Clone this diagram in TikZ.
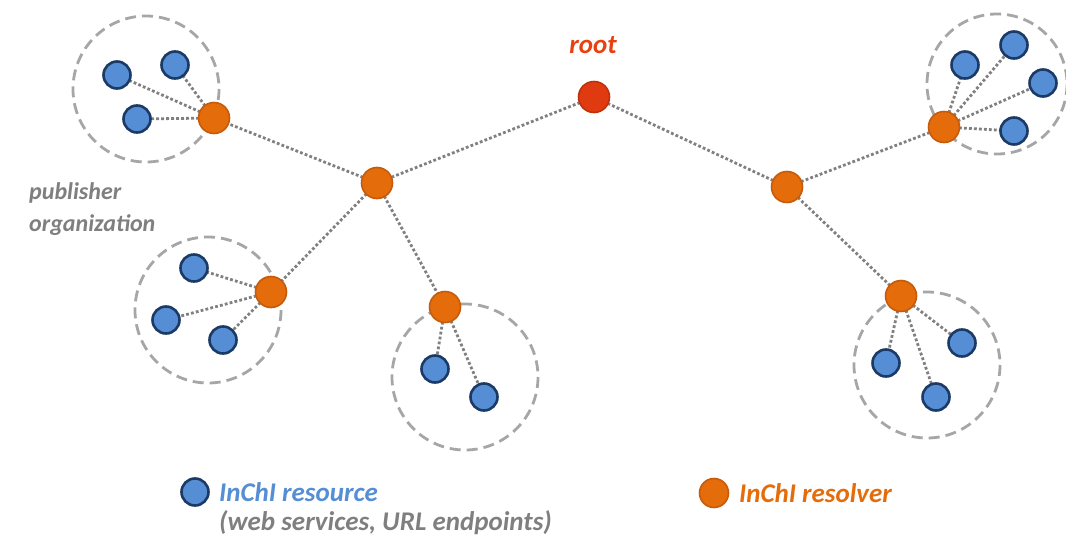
\documentclass[tikz,border=0pt]{standalone}
\usepackage{fontspec}
\setmainfont{Carlito}
\pgfdeclarelayer{background}
\pgfsetlayers{background,main}
\begin{document}
\begin{tikzpicture}[x=1pt,y=-1pt,
  resource/.style={circle,draw=navy,fill=resblue,line width=2.6pt,minimum size=27pt,inner sep=0pt},
  resolver/.style={circle,draw=orangedark,fill=orangefill,line width=1.6pt,minimum size=31pt,inner sep=0pt},
  rootnode/.style={circle,draw=reddark,fill=redfill,line width=1.6pt,minimum size=31pt,inner sep=0pt},
  org/.style={draw=dashgray,line width=2.8pt,dash pattern=on 11pt off 6pt},
  link/.style={draw=linkgray,line width=2.8pt,dash pattern=on 2.8pt off 2.2pt},
  lbl/.style={font=\fontsize{27}{32}\selectfont\bfseries\itshape,inner sep=0pt},
  smalllbl/.style={font=\fontsize{24}{32}\selectfont\bfseries\itshape,inner sep=0pt}]
\definecolor{navy}{HTML}{1B3A66}
\definecolor{resblue}{HTML}{558ED5}
\definecolor{orangefill}{HTML}{E46C0A}
\definecolor{orangedark}{HTML}{C65B0C}
\definecolor{redfill}{HTML}{E03A10}
\definecolor{reddark}{HTML}{C0300C}
\definecolor{dashgray}{HTML}{A6A6A6}
\definecolor{linkgray}{HTML}{808080}
\definecolor{txtgray}{HTML}{7F7F7F}
\definecolor{rootred}{HTML}{E8410F}
\useasboundingbox (0,0) rectangle (1066,538);

% resolvers
\node[rootnode] (root) at (594,97) {};
\node[resolver] (a) at (377,183) {};
\node[resolver] (b) at (214,118) {};
\node[resolver] (c) at (271,292) {};
\node[resolver] (d) at (445,307) {};
\node[resolver] (e) at (787,187) {};
\node[resolver] (f) at (944,127) {};
\node[resolver] (g) at (901,296) {};

% resources
\node[resource] (b1) at (117,75) {};
\node[resource] (b2) at (175,65) {};
\node[resource] (b3) at (137,119) {};
\node[resource] (c1) at (194,268) {};
\node[resource] (c2) at (166,320) {};
\node[resource] (c3) at (223,340) {};
\node[resource] (d1) at (435,369) {};
\node[resource] (d2) at (484,397) {};
\node[resource] (f1) at (965,65) {};
\node[resource] (f2) at (1014,45) {};
\node[resource] (f3) at (1043,83) {};
\node[resource] (f4) at (1014,131) {};
\node[resource] (g1) at (886,363) {};
\node[resource] (g2) at (962,343) {};
\node[resource] (g3) at (936,397) {};

\begin{pgfonlayer}{background}
  % publisher organizations
  \draw[org] (146,89) circle (73);
  \draw[org] (208,310) circle (73);
  \draw[org] (465,377) circle (73);
  \draw[org] (997,84) circle (70);
  \draw[org] (927,365) circle (73);
  % links
  \foreach \u/\v in {root/a,root/e,a/b,a/c,a/d,e/f,e/g,
    b/b1,b/b2,b/b3,c/c1,c/c2,c/c3,d/d1,d/d2,f/f1,f/f2,f/f3,f/f4,g/g1,g/g2,g/g3}
    \path[link] (\u.center) -- (\v.center);
\end{pgfonlayer}

% labels
\node[lbl,text=rootred] (rootlbl) at (593,45) {root};
\node[smalllbl,text=txtgray,align=left,anchor=west] (orglbl) at (29,209) {publisher\\organization};

% legend
\node[resource] (legres) at (195,492) {};
\node[lbl,text=resblue,anchor=west] (legrestxt) at (219,492) {InChI resource};
\node[lbl,text=txtgray,anchor=west] (legrestxt2) at (219,523) {(web services, URL endpoints)};
\node[resolver,minimum size=29pt] (legresolver) at (714,493) {};
\node[lbl,text=orangefill,anchor=west] (legresolvertxt) at (739,493) {InChI resolver};
\end{tikzpicture}
\end{document}
